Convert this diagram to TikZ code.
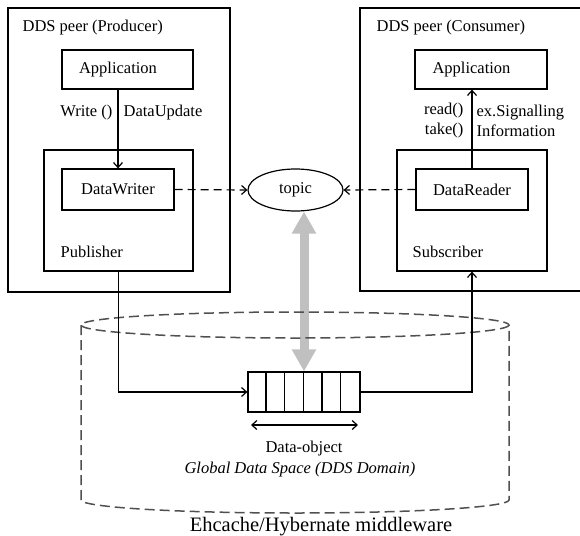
\documentclass[tikz,border=0pt]{standalone}
\usepackage{fontspec}
\setmainfont{Liberation Serif}
\usetikzlibrary{arrows.meta,shapes.geometric}
\definecolor{garr}{RGB}{192,192,192}
\definecolor{cylc}{RGB}{80,80,80}
\begin{document}
\begin{tikzpicture}[x=1pt,y=-1pt,line width=1.2pt,
  box/.style={draw,rectangle,inner sep=0pt},
  txt/.style={inner sep=0pt,font=\fontsize{16.5}{20}\selectfont},
  txti/.style={inner sep=0pt,font=\fontsize{16.5}{20}\selectfont\itshape},
  arr/.style={-{Straight Barb[length=5pt,width=9pt]}},
  dsh/.style={dash pattern=on 8pt off 5pt},
  cyl/.style={draw=cylc,line width=1.5pt,dash pattern=on 10pt off 5pt},
  gray arrow/.style={draw=garr,line width=9pt,{Triangle[length=22pt,width=23pt]}-{Triangle[length=22pt,width=23pt]}}]
\useasboundingbox (0,0) rectangle (580,535);
\fill[white] (0,0) rectangle (580,535);
% producer
\node[box,minimum width=222pt,minimum height=284pt] (prod) at (119,150) {};
\node[txt,anchor=west] (prodT) at (22,28) {DDS peer (Producer)};
\node[box,minimum width=131pt,minimum height=39pt] (app1) at (127.5,69.5) {};
\node[txt] (app1T) at (118,69.5) {Application};
\node[box,minimum width=149pt,minimum height=121pt] (pub) at (118.5,210.5) {};
\node[box,txt,minimum width=112pt,minimum height=41pt] (dw) at (118,189.5) {DataWriter};
\node[txt,anchor=west] (pubT) at (60,252) {Publisher};
\draw[arr] (dw.north |- app1.south) -- (dw.north);
\node[txt,anchor=east] (w1) at (113,113) {Write ()};
\node[txt,anchor=west] (w2) at (123,113) {DataUpdate};
% consumer
\coordinate (c1) at (580,8);
\coordinate (c2) at (360,8);
\coordinate (c3) at (360,291);
\coordinate (c4) at (580,291);
\draw (c1) -- (c2) -- (c3) -- (c4);
\node[txt,anchor=west] (consT) at (376,28) {DDS peer (Consumer)};
\node[box,minimum width=132pt,minimum height=39pt] (app2) at (481,69.5) {};
\node[txt] (app2T) at (471.5,69.5) {Application};
\node[box,minimum width=150pt,minimum height=121pt] (sub) at (472,210.5) {};
\node[box,txt,minimum width=112pt,minimum height=41pt] (dr) at (472,189.5) {DataReader};
\node[txt,anchor=west] (subT) at (412,252) {Subscriber};
\draw[arr] (dr.north) -- (dr.north |- app2.south);
\node[txt,anchor=east,align=right] (r1) at (464,121) {read()\\take()};
\node[txt,anchor=west,align=left] (r2) at (476,121) {ex.Signalling\\Information};
% topic
\node[draw,ellipse,txt,minimum width=95pt,minimum height=42pt] (topic) at (295.5,190) {topic};
\draw[arr,dsh] (dw.east) -- (topic.west);
\draw[arr,dsh] (dr.west) -- (topic.east);
% queue
\node[box,minimum width=112pt,minimum height=40pt] (q) at (304,392) {};
\foreach \i in {1,...,5}
  \draw ([xshift=\i*18.667pt]q.north west) -- ([xshift=\i*18.667pt]q.south west);
\draw[gray arrow] (q.north |- topic.south) -- (q.north);
% cylinder
\draw[cyl] (295,325) ellipse [x radius=214, y radius=13];
\draw[cyl] (81,325) -- (81,500) .. controls (81,507.2) and (176.9,513) .. (295,513)
  .. controls (413.1,513) and (509,507.2) .. (509,500) -- (509,325);
% wires
\draw[arr] (pub.south) |- (q.west);
\draw[arr] (q.east) -| (sub.south);
\coordinate (da1) at (251,425);
\coordinate (da2) at (358,425);
\draw[{Straight Barb[length=5pt,width=9pt]}-{Straight Barb[length=5pt,width=9pt]}] (da1) -- (da2);
% labels
\node[txt] (dobj) at (304,449) {Data-object};
\node[txti] (gds) at (300,470) {Global Data Space (DDS Domain)};
\node[inner sep=0pt,font=\fontsize{20.5}{24}\selectfont] (mw) at (321,527) {Ehcache/Hybernate middleware};
\end{tikzpicture}
\end{document}
